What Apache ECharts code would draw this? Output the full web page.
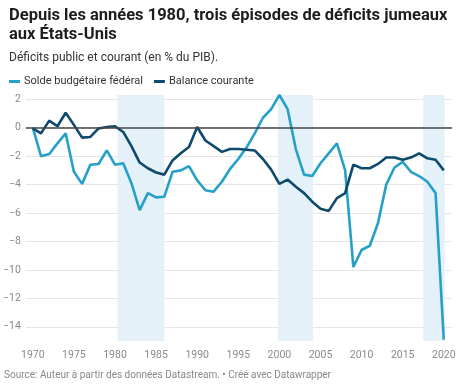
<!DOCTYPE html>
<html>
<head>
<meta charset="utf-8">
<script src="https://cdn.jsdelivr.net/npm/echarts@6/dist/echarts.min.js"></script>
<style>
  html, body { margin: 0; padding: 0; background: #fff; }
  #chart { width: 460px; height: 385px; }
</style>
</head>
<body>
<div id="chart"></div>
<script>
const years = [];
for (let y = 1970; y <= 2020; y++) years.push(y);

// % du PIB
const soldeBudgetaire = [
    0.0, -2.0, -1.85, -1.1, -0.4, -3.1, -3.95, -2.6, -2.55, -1.6,
    -2.6, -2.5, -3.9, -5.8, -4.6, -4.9, -4.85, -3.1, -3.0, -2.7,
    -3.7, -4.4, -4.5, -3.8, -2.9, -2.2, -1.4, -0.4, 0.7, 1.3,
    2.3, 1.3, -1.5, -3.3, -3.4, -2.5, -1.8, -1.1, -3.0, -9.8,
    -8.6, -8.3, -6.7, -4.0, -2.8, -2.4, -3.1, -3.4, -3.8, -4.6,
    -14.9
];
const balanceCourante = [
    -0.05, -0.4, 0.5, 0.1, 1.05, 0.2, -0.7, -0.65, -0.05, 0.05,
    0.1, -0.3, -1.3, -2.45, -2.85, -3.15, -3.3, -2.3, -1.8, -1.35,
    0.05, -0.9, -1.3, -1.7, -1.5, -1.5, -1.55, -1.6, -2.2, -2.95,
    -3.95, -3.65, -4.15, -4.6, -5.2, -5.7, -5.85, -4.95, -4.6, -2.6,
    -2.85, -2.85, -2.55, -2.1, -2.1, -2.25, -2.1, -1.8, -2.15, -2.25,
    -3.0
];
// épisodes de déficits jumeaux (début, fin)
const episodes = [[1980.3, 1986.0], [1999.8, 2004.1], [2017.5, 2020.1]];
const xTicks = [1970, 1975, 1980, 1985, 1990, 1995, 2000, 2005, 2010, 2015, 2020];
const yTicks = [2, 0, -2, -4, -6, -8, -10, -12, -14];

const chart = echarts.init(document.getElementById('chart'));

const pair = (vals) => years.map((y, i) => [y, vals[i]]);
const font = 'Roboto, "Noto Sans", sans-serif';

const option = {
    animation: false,
    textStyle: { fontFamily: font },
    title: [
        {
            text: 'Depuis les années 1980, trois épisodes de déficits jumeaux\naux États-Unis',
            left: 4, top: 1,
            textStyle: { fontSize: 16.5, fontWeight: 'bold', color: '#1d1d1d', lineHeight: 19, fontFamily: font }
        },
        {
            text: 'Déficits public et courant (en % du PIB).',
            left: 4, top: 47,
            textStyle: { fontSize: 12, fontWeight: 'normal', color: '#333', fontFamily: font }
        }
    ],
    legend: {
        left: 4, top: 71,
        icon: 'rect', itemWidth: 11, itemHeight: 3, itemGap: 11,
        textStyle: { fontSize: 11, color: '#333', padding: [0, 0, 0, -1] },
        data: ['Solde budgétaire fédéral', 'Balance courante']
    },
    grid: { left: 23, right: 8, top: 95, bottom: 44 },
    xAxis: {
        type: 'value',
        min: 1969.15, max: 2021,
        axisLine: { show: false },
        axisTick: { show: false },
        splitLine: { show: false },
        axisLabel: {
            customValues: xTicks,
            color: '#8a8a8a', fontSize: 10.5, margin: 9,
            formatter: (v) => String(v)
        }
    },
    yAxis: {
        type: 'value',
        min: -15, max: 2.3,
        axisLine: { show: false },
        axisTick: { show: false, customValues: yTicks },
        splitLine: { lineStyle: { color: '#e6e6e6', width: 1 } },
        axisLabel: {
            customValues: yTicks,
            color: '#8a8a8a', fontSize: 10.5, margin: 5,
            formatter: (v) => v < 0 ? '\u2212' + Math.abs(v) : String(v)
        }
    },
    series: [
        {
            type: 'line', data: [], z: 1, silent: true,
            markArea: {
                silent: true,
                itemStyle: { color: '#e4f1f8' },
                data: episodes.map(e => [{ xAxis: e[0] }, { xAxis: e[1] }])
            },
            markLine: {
                silent: true, symbol: 'none',
                label: { show: false },
                lineStyle: { color: '#444', width: 1.5, type: 'solid' },
                data: [{ yAxis: 0 }]
            }
        },
        {
            name: 'Solde budgétaire fédéral',
            type: 'line',
            data: pair(soldeBudgetaire),
            showSymbol: false,
            color: '#24a0c9',
            lineStyle: { width: 2.6 },
            z: 3
        },
        {
            name: 'Balance courante',
            type: 'line',
            data: pair(balanceCourante),
            showSymbol: false,
            color: '#0d4a6b',
            lineStyle: { width: 2.6 },
            z: 4
        }
    ],
    graphic: [{
        type: 'text', left: 4, top: 370,
        style: {
            text: 'Source: Auteur à partir des données Datastream. • Créé avec Datawrapper',
            fontSize: 10, fill: '#888', fontFamily: font
        }
    }]
};

chart.setOption(option);
</script>
</body>
</html>
